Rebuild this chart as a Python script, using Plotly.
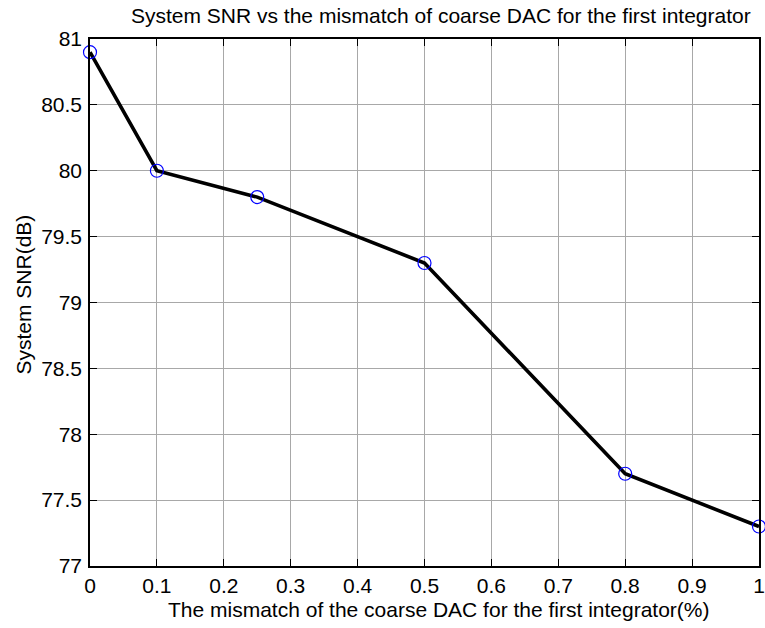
import plotly.graph_objects as go

# Coarse DAC mismatch (%) and resulting system SNR (dB)
mismatch_pct = [0, 0.1, 0.25, 0.5, 0.8, 1.0]
snr_db = [80.9, 80.0, 79.8, 79.3, 77.7, 77.3]

x_ticks = [0, 0.1, 0.2, 0.3, 0.4, 0.5, 0.6, 0.7, 0.8, 0.9, 1]
x_tick_text = ["0", "0.1", "0.2", "0.3", "0.4", "0.5", "0.6", "0.7", "0.8", "0.9", "1"]
y_ticks = [77, 77.5, 78, 78.5, 79, 79.5, 80, 80.5, 81]
y_tick_text = ["77", "77.5", "78", "78.5", "79", "79.5", "80", "80.5", "81"]

title_text = "System SNR vs the mismatch of coarse DAC for the first integrator"
x_label = "The mismatch of the coarse DAC for the first integrator(%)"
y_label = "System SNR(dB)"

font_family = "Liberation Sans, Arial, sans-serif"
W, H = 765, 628

fig = go.Figure()
fig.add_trace(go.Scatter(
    x=mismatch_pct, y=snr_db,
    mode="lines+markers",
    line=dict(color="black", width=3.6),
    marker=dict(symbol="circle-open", size=13, color="blue", line=dict(width=1.2, color="blue")),
    cliponaxis=False,
    showlegend=False,
))

axis_common = dict(
    showline=True, linecolor="black", linewidth=1.5, mirror="ticks",
    ticks="inside", ticklen=7, tickcolor="black", tickwidth=1,
    showgrid=True, gridcolor="#a8a8a8", gridwidth=1.3,
    zeroline=False, automargin=False,
    tickfont=dict(family=font_family, size=21, color="black"),
)

fig.update_layout(
    width=W, height=H,
    margin=dict(l=90, r=6, t=39, b=62),
    paper_bgcolor="white", plot_bgcolor="white",
    font=dict(family=font_family, size=21, color="black"),
    xaxis=dict(range=[0, 1], tickvals=x_ticks, ticktext=x_tick_text, **axis_common),
    yaxis=dict(range=[77, 81], tickvals=y_ticks, ticktext=y_tick_text,
               ticklabelstandoff=2, **axis_common),
    annotations=[
        dict(text=title_text, xref="paper", yref="paper",
             x=(441 - 90) / (759 - 90), y=1 + (39 - 16) / 527,
             xanchor="center", yanchor="middle", showarrow=False,
             font=dict(family=font_family, size=21, color="black")),
        dict(text=x_label, xref="paper", yref="paper",
             x=(439 - 90) / (759 - 90), y=-(609 - 566) / 527,
             xanchor="center", yanchor="middle", showarrow=False,
             font=dict(family=font_family, size=21, color="black")),
        dict(text=y_label, xref="paper", yref="paper", textangle=-90,
             x=-(90 - 23) / (759 - 90), y=(566 - 294.5) / 527,
             xanchor="center", yanchor="middle", showarrow=False,
             font=dict(family=font_family, size=21, color="black")),
    ],
)

fig.write_html("out.html")
